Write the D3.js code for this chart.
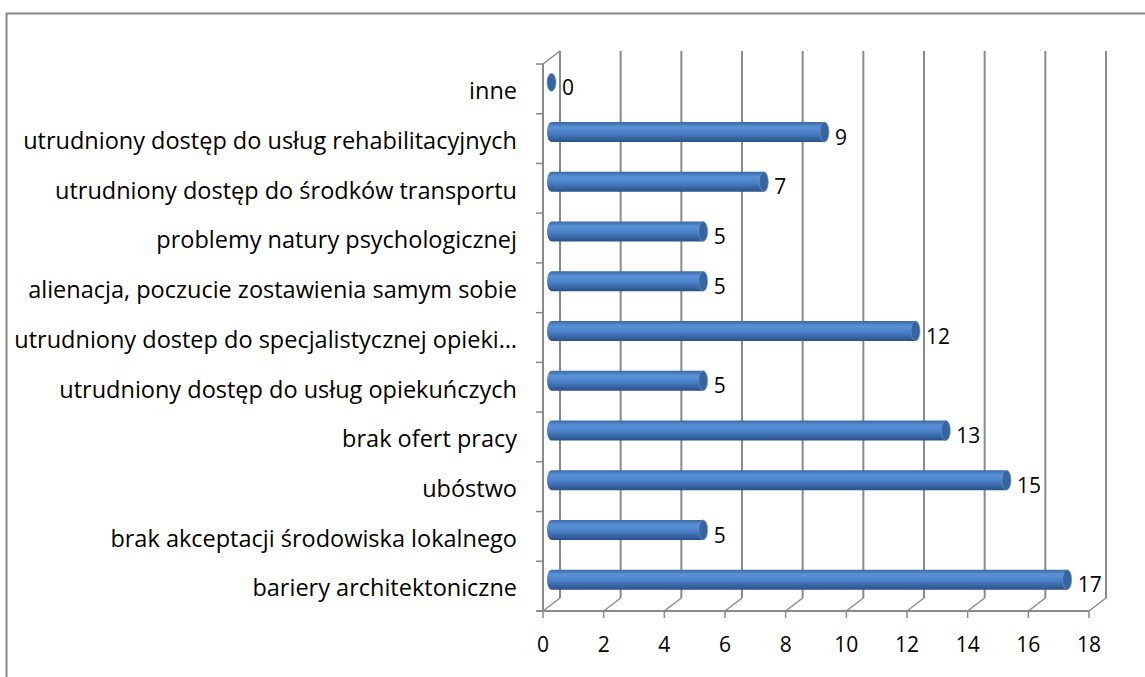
<!DOCTYPE html>
<html>
<head>
<meta charset="utf-8">
<script src="https://cdn.jsdelivr.net/npm/d3@7"></script>
<style>
  body { margin: 0; background: #fff; }
  svg text { font-family: "Open Sans", "Liberation Sans", sans-serif; fill: #000; }
</style>
</head>
<body>
<svg id="chart" width="1145" height="677"></svg>
<script>
// categories from bottom to top, as in the picture
var categories = [
    "bariery architektoniczne",
    "brak akceptacji środowiska lokalnego",
    "ubóstwo",
    "brak ofert pracy",
    "utrudniony dostęp do usług opiekuńczych",
    "utrudniony dostep do specjalistycznej opieki…",
    "alienacja, poczucie zostawienia samym sobie",
    "problemy natury psychologicznej",
    "utrudniony dostęp do środków transportu",
    "utrudniony dostęp do usług rehabilitacyjnych",
    "inne"
]
var values = [17, 5, 15, 13, 5, 12, 5, 5, 7, 9, 0]
var xTicks = [0, 2, 4, 6, 8, 10, 12, 14, 16, 18]

var svg = d3.select("#chart")

// 3d depth offset of the back wall
var dx = 17, dy = -13
var gridColor = "#8a8a8a"

var x = d3.scaleLinear().domain([0, 18]).range([543, 1089])
var y = d3.scaleBand()
    .domain(categories.slice().reverse())
    .range([64, 611])

// outer frame
svg.append("rect")
    .attr("x", 6.5).attr("y", 13.5)
    .attr("width", 1160).attr("height", 700)
    .attr("fill", "none")
    .attr("stroke", "#868686")
    .attr("stroke-width", 2)

var grid = svg.append("g")
var y0 = y.range()[0], y1 = y.range()[1]

// back wall vertical gridlines
grid.selectAll("line.gv")
    .data(xTicks)
    .enter().append("line")
    .attr("class", "gv")
    .attr("x1", function(d) { return x(d) + dx })
    .attr("x2", function(d) { return x(d) + dx })
    .attr("y1", y0 + dy)
    .attr("y2", y1 + dy)
    .attr("stroke", gridColor)
    .attr("stroke-width", 2)

// floor: diagonal lines at each tick
grid.selectAll("line.gd")
    .data(xTicks)
    .enter().append("line")
    .attr("class", "gd")
    .attr("x1", function(d) { return x(d) })
    .attr("x2", function(d) { return x(d) + dx })
    .attr("y1", y1)
    .attr("y2", y1 + dy)
    .attr("stroke", gridColor)
    .attr("stroke-width", 1.5)

// floor front edge + ticks
grid.append("line")
    .attr("x1", x(0) - 7).attr("x2", x(18))
    .attr("y1", y1).attr("y2", y1)
    .attr("stroke", gridColor).attr("stroke-width", 2)

grid.selectAll("line.tk")
    .data(xTicks)
    .enter().append("line")
    .attr("class", "tk")
    .attr("x1", function(d) { return x(d) })
    .attr("x2", function(d) { return x(d) })
    .attr("y1", y1).attr("y2", y1 + 7)
    .attr("stroke", gridColor).attr("stroke-width", 1.5)

// left wall
grid.append("line")
    .attr("x1", x(0)).attr("x2", x(0))
    .attr("y1", y0).attr("y2", y1)
    .attr("stroke", gridColor).attr("stroke-width", 2)
grid.append("line")
    .attr("x1", x(0)).attr("x2", x(0) + dx)
    .attr("y1", y0).attr("y2", y0 + dy)
    .attr("stroke", gridColor).attr("stroke-width", 1.5)

var bounds = categories.slice().reverse().map(function(c) { return y(c) })
bounds.push(y1)
grid.selectAll("line.ct")
    .data(bounds)
    .enter().append("line")
    .attr("class", "ct")
    .attr("x1", x(0) - 7).attr("x2", x(0))
    .attr("y1", function(d) { return d }).attr("y2", function(d) { return d })
    .attr("stroke", gridColor).attr("stroke-width", 1.5)

// x tick labels
svg.selectAll("text.xl")
    .data(xTicks)
    .enter().append("text")
    .attr("class", "xl")
    .attr("x", function(d) { return x(d) })
    .attr("y", 646)
    .attr("text-anchor", "middle")
    .attr("dominant-baseline", "middle")
    .style("font-size", "21px")
    .text(function(d) { return d })

// category labels
svg.selectAll("text.cl")
    .data(categories)
    .enter().append("text")
    .attr("class", "cl")
    .attr("x", 517)
    .attr("y", function(d) { return y(d) + y.bandwidth() / 2 + 4 })
    .attr("text-anchor", "end")
    .attr("dominant-baseline", "middle")
    .style("font-size", "23.5px")
    .text(function(d) { return d })

// cylinder gradient
var defs = svg.append("defs")
var grad = defs.append("linearGradient")
    .attr("id", "cyl").attr("x1", 0).attr("x2", 0).attr("y1", 0).attr("y2", 1)
grad.append("stop").attr("offset", "0%").attr("stop-color", "#3a68a3")
grad.append("stop").attr("offset", "25%").attr("stop-color", "#5a92d8")
grad.append("stop").attr("offset", "55%").attr("stop-color", "#4a80c6")
grad.append("stop").attr("offset", "100%").attr("stop-color", "#2a5088")

var barH = 20, capR = 4.5
var data = categories.map(function(c, i) { return { cat: c, val: values[i] } })

var bars = svg.append("g").selectAll("g.bar")
    .data(data)
    .enter().append("g")
    .attr("class", "bar")
    .attr("transform", function(d) {
        return "translate(0," + (y(d.cat) + y.bandwidth() / 2 + dy / 2) + ")"
    })

bars.filter(function(d) { return d.val > 0 })
    .append("path")
    .attr("d", function(d) {
        var xs = x(0) + dx / 2, xe = x(d.val) + dx / 2
        return "M" + xe + "," + (-barH / 2) +
            " L" + xs + "," + (-barH / 2) +
            " A" + capR + "," + (barH / 2) + " 0 0 0 " + xs + "," + (barH / 2) +
            " L" + xe + "," + (barH / 2) + " Z"
    })
    .attr("fill", "url(#cyl)")

bars.append("ellipse")
    .attr("cx", function(d) { return x(d.val) + dx / 2 })
    .attr("cy", 0)
    .attr("rx", capR)
    .attr("ry", function(d) { return d.val > 0 ? barH / 2 : 9 })
    .attr("fill", "#39659f")
    .attr("stroke", "#6f9ad2")
    .attr("stroke-width", 0.6)

bars.append("text")
    .attr("x", function(d) { return x(d.val) + dx / 2 + capR + 6 })
    .attr("y", 7)
    .attr("dominant-baseline", "middle")
    .style("font-size", "21px")
    .text(function(d) { return d.val })
</script>
</body>
</html>
